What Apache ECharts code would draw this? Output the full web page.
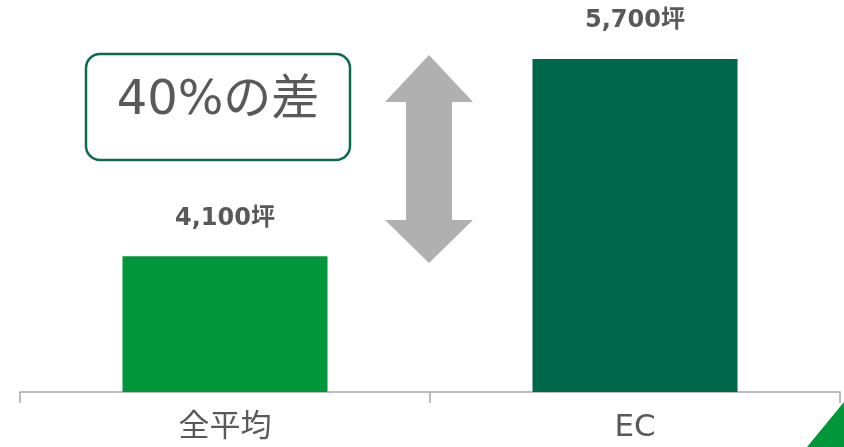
<!DOCTYPE html>
<html><head><meta charset="utf-8">
<script src="https://cdn.jsdelivr.net/npm/echarts@6/dist/echarts.min.js"></script>
<style>html,body{margin:0;padding:0;background:#fff}#c{width:844px;height:447px}</style>
</head><body><div id="c"></div>
<script>
const categories = ['全平均', 'EC'];
const values = [4100, 5700];
const labels = ['4,100坪', '5,700坪'];
const barColors = ['#009639', '#00674a'];
const diffText = '40%の差';

const FONT = '"DejaVu Sans", "Noto Sans CJK JP", sans-serif';
const chart = echarts.init(document.getElementById('c'), null, {renderer: 'canvas'});
chart.setOption({
  animation: false,
  grid: {left: 20, right: 4, top: 22, bottom: 55, containLabel: false},
  xAxis: {
    type: 'category', data: categories,
    axisLine: {lineStyle: {color: '#a6a6a6', width: 1.5}},
    axisTick: {show: true, length: 11, lineStyle: {color: '#a6a6a6', width: 1.5}},
    axisLabel: {fontSize: 31, color: '#595959', fontFamily: FONT, margin: 20}
  },
  yAxis: {
    type: 'value', min: 3000, max: 6000, show: false,
    splitLine: {show: false}
  },
  series: [{
    type: 'bar', barWidth: '50%',
    data: values.map((v, i) => ({value: v, itemStyle: {color: barColors[i]}})),
    label: {
      show: true, position: 'top', distance: 26,
      formatter: p => labels[p.dataIndex],
      fontSize: 24, fontWeight: 'bold', color: '#595959', fontFamily: FONT
    }
  }],
  graphic: [
    {type: 'rect', shape: {x: 86, y: 54, width: 264, height: 106, r: 14},
     style: {fill: '#fff', stroke: '#0a6b4b', lineWidth: 2.5}},
    {type: 'text', x: 218, y: 102,
     style: {text: diffText, fontSize: 48, fill: '#595959', fontFamily: FONT, align: 'center', verticalAlign: 'middle'}},
    {type: 'polygon', shape: {points: [[429,55],[473,102],[452,102],[452,220],[473,220],[429,263],[385,220],[406,220],[406,102],[385,102]]},
     style: {fill: '#b0b0b0'}},
    {type: 'polygon', shape: {points: [[807,447],[844,402],[844,447]]}, style: {fill: '#009639'}}
  ]
});
</script></body></html>
